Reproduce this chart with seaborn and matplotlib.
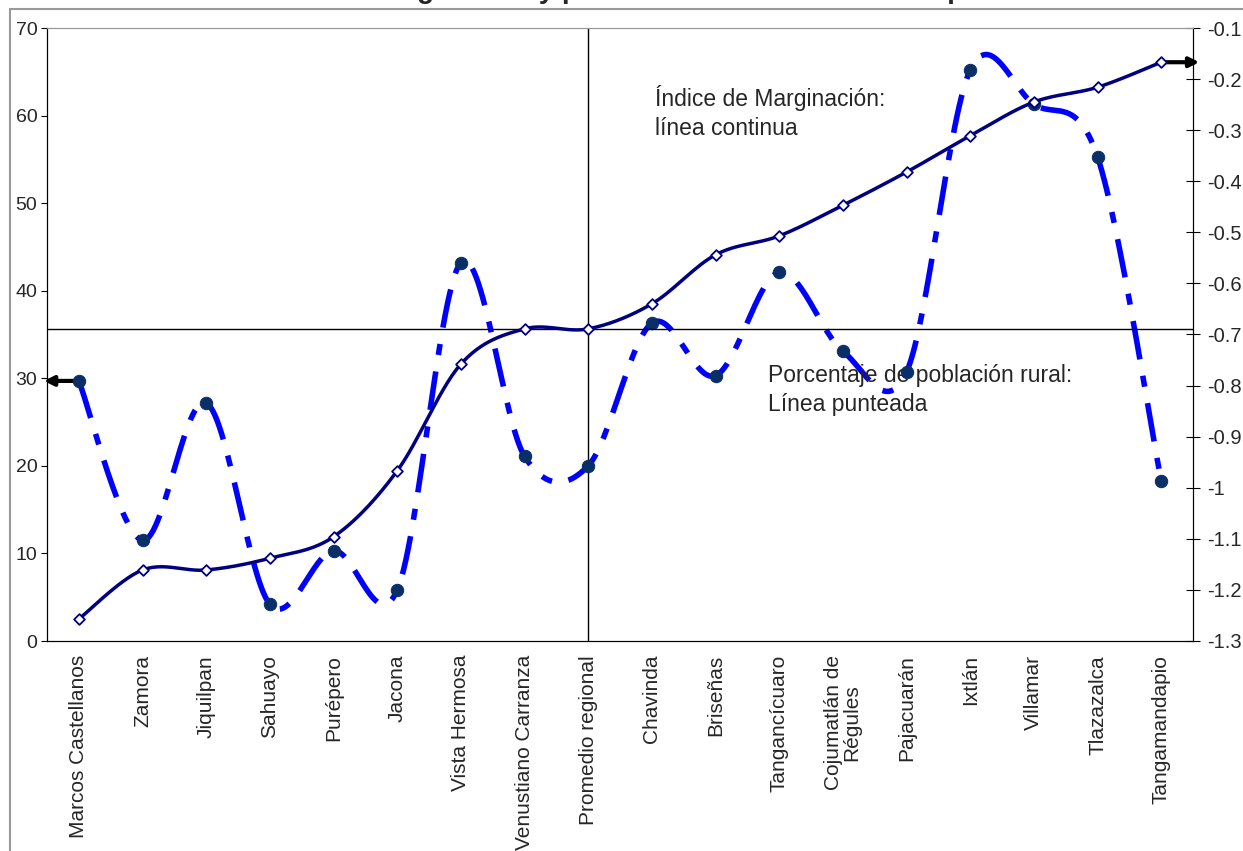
import numpy as np
import pandas as pd
import matplotlib
matplotlib.use('Agg')
import matplotlib.pyplot as plt
from matplotlib.lines import Line2D
import seaborn as sns

municipios = ['Marcos Castellanos', 'Zamora', 'Jiquilpan', 'Sahuayo', 'Purépero', 'Jacona',
              'Vista Hermosa', 'Venustiano Carranza', 'Promedio regional', 'Chavinda', 'Briseñas',
              'Tangancícuaro', 'Cojumatlán de\nRégules', 'Pajacuarán', 'Ixtlán', 'Villamar',
              'Tlazazalca', 'Tangamandapio']
rural = [29.7, 11.5, 27.2, 4.2, 10.3, 5.8, 43.2, 21.1, 20.0, 36.3, 30.3, 42.1, 33.1, 30.7,
         65.2, 61.3, 55.3, 18.3]
marginacion = [-1.257, -1.161, -1.161, -1.138, -1.096, -0.967, -0.758, -0.689, -0.689, -0.640,
               -0.544, -0.507, -0.447, -0.382, -0.311, -0.245, -0.216, -0.167]

sns.set_style('white')
plt.rcParams['font.family'] = ['Liberation Sans', 'DejaVu Sans']

df = pd.DataFrame({'pos': np.arange(len(municipios)), 'rural': rural, 'marg': marginacion})


def suavizar(x, y, n=30):
    # curva suavizada estilo Excel (Catmull-Rom con Bezier)
    x = np.asarray(x, float)
    y = np.asarray(y, float)
    px = np.concatenate([[x[0]], x, [x[-1]]])
    py = np.concatenate([[y[0]], y, [y[-1]]])
    t = np.linspace(0, 1, n)
    xs, ys = [], []
    for i in range(1, len(px) - 2):
        p0 = np.array([px[i], py[i]])
        p3 = np.array([px[i + 1], py[i + 1]])
        p1 = p0 + (np.array([px[i + 1], py[i + 1]]) - np.array([px[i - 1], py[i - 1]])) / 6
        p2 = p3 - (np.array([px[i + 2], py[i + 2]]) - np.array([px[i], py[i]])) / 6
        b = ((1 - t) ** 3)[:, None] * p0 + (3 * (1 - t) ** 2 * t)[:, None] * p1 \
            + (3 * (1 - t) * t ** 2)[:, None] * p2 + (t ** 3)[:, None] * p3
        xs.extend(b[:, 0])
        ys.extend(b[:, 1])
    return pd.DataFrame({'x': xs, 'y': ys})


fig = plt.figure(figsize=(12.43, 8.51), dpi=100)
ax = fig.add_axes([47 / 1243, 1 - 641 / 851, (1193 - 47) / 1243, (641 - 28) / 851])
ax2 = ax.twinx()

# porcentaje de población rural (eje izquierdo)
curva_r = suavizar(df['pos'], df['rural'])
sns.lineplot(data=curva_r, x='x', y='y', sort=False, ax=ax, color='#0000FF', lw=4,
             dashes=False, zorder=3).lines[-1].set_dashes((7, 3, 2, 3))
sns.scatterplot(data=df, x='pos', y='rural', ax=ax, color='#0A2F66', s=80,
                edgecolor='#0A2F66', zorder=4)

# índice de marginación (eje derecho)
curva_m = suavizar(df['pos'], df['marg'])
sns.lineplot(data=curva_m, x='x', y='y', sort=False, ax=ax2, color='#000080', lw=2.5, zorder=3)
sns.scatterplot(data=df, x='pos', y='marg', ax=ax2, marker='D', s=30, color='white',
                edgecolor='#000080', linewidth=1.3, zorder=4)

ax.set_xlim(-0.5, len(municipios) - 0.5)
ax.set_ylim(0, 70)
ax2.set_ylim(-1.3, -0.1)
ax.set_yticks(np.arange(0, 71, 10))
ticks_der = np.round(np.arange(-1.3, -0.05, 0.1), 1)
ax2.set_yticks(ticks_der)
ax2.set_yticklabels([f'{v:g}' for v in ticks_der])
ax.set_xticks(np.arange(-0.5, len(municipios), 1), minor=False)
ax.set_xticklabels([])
ax.set_xticks(df['pos'], minor=True)
ax.set_xticklabels(municipios, minor=True, rotation=90, va='top', ha='center', fontsize=15,
                   multialignment='center', linespacing=0.95)
ax.tick_params(axis='x', which='minor', length=0, pad=10)
ax.tick_params(axis='x', which='major', direction='inout', length=12, width=1, color='black')
ax.tick_params(axis='y', direction='out', length=4, labelsize=14, color='black', pad=3)
ax2.tick_params(axis='y', direction='inout', length=10, labelsize=14.5, color='black', pad=5)
ax.set_xlabel('')
ax.set_ylabel('')
ax2.set_ylabel('')

for a in (ax, ax2):
    a.spines['top'].set_color('#999999')
    a.spines['left'].set_color('black')
    a.spines['right'].set_color('black')
    a.spines['bottom'].set_color('black')

# líneas de referencia en el promedio regional
i_prom = municipios.index('Promedio regional')
ax.axvline(i_prom, color='black', lw=1, zorder=2)
ax2.axhline(marginacion[i_prom], color='black', lw=1, zorder=2)

# flechas hacia cada eje
ax.annotate('', xy=(-0.55, rural[0]), xytext=(0, rural[0]), annotation_clip=False,
            arrowprops=dict(arrowstyle='-|>', color='black', lw=3, mutation_scale=14,
                            shrinkA=0, shrinkB=0))
ax2.annotate('', xy=(len(municipios) - 0.4, marginacion[-1]),
             xytext=(len(municipios) - 1, marginacion[-1]), annotation_clip=False,
             arrowprops=dict(arrowstyle='-|>', color='black', lw=3, mutation_scale=14,
                             shrinkA=0, shrinkB=0))

ax.text(9.05, 60.35, 'Índice de Marginación:\nlínea continua', fontsize=16.5,
        linespacing=1.35, va='center')
ax.text(10.82, 28.66, 'Porcentaje de población rural:\nLínea punteada', fontsize=16.5,
        linespacing=1.35, va='center')

fig.text(0.5, 1.002, 'Índice de marginación y población rural en los municipios',
         fontsize=20, fontweight='bold', ha='center', va='baseline')

# marco exterior gris
fig.add_artist(Line2D([10 / 1243, 10 / 1243], [0, 1 - 9 / 851], color='#999999', lw=1.5))
fig.add_artist(Line2D([10 / 1243, 1], [1 - 9 / 851, 1 - 9 / 851], color='#999999', lw=1.5))

fig.savefig('out.png', dpi=100)
